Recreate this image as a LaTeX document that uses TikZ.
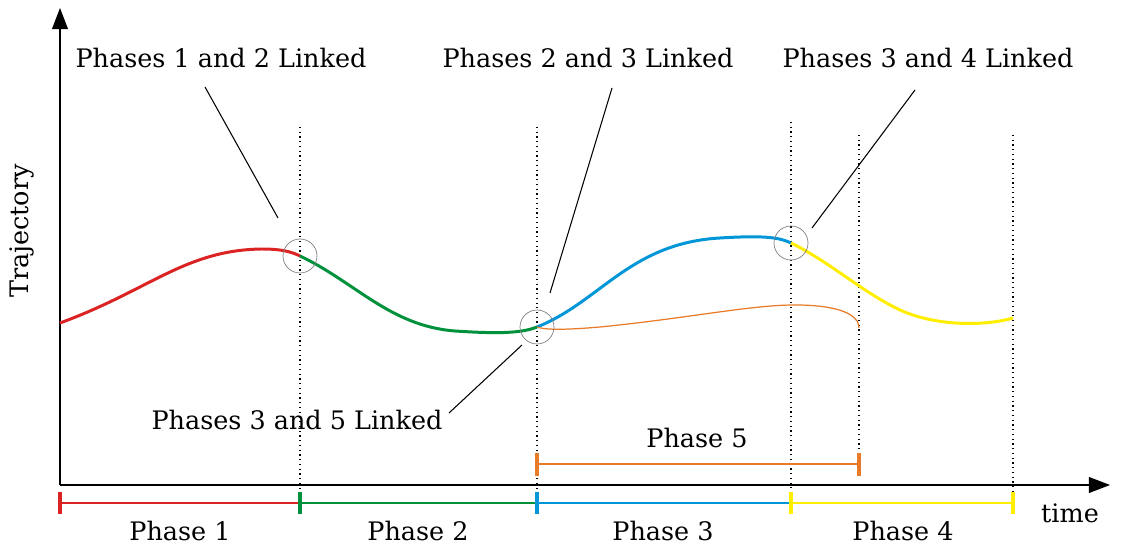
\documentclass[tikz,border=0pt]{standalone}
\usepackage{fontspec}
\setmainfont{DejaVu Serif}
\usetikzlibrary{arrows.meta}
\definecolor{cred}{RGB}{220,35,35}
\definecolor{cgreen}{RGB}{0,145,60}
\definecolor{cblue}{RGB}{0,150,215}
\definecolor{cyellow}{RGB}{255,238,0}
\definecolor{corange}{RGB}{232,122,40}
\tikzset{
  curve/.style={line width=1.7pt},
  axis/.style={line width=0.8pt,-{Triangle[length=12pt,width=9pt]}},
  guide/.style={dotted,line width=0.7pt},
  bar/.style={line width=0.8pt},
  tick/.style={line width=1.8pt},
  lbl/.style={font=\fontsize{14.5}{17}\selectfont,inner sep=0pt},
  lead/.style={line width=0.6pt},
  ring/.style={circle,draw=gray,line width=0.4pt,minimum size=0.68cm, inner sep=0pt},
}
\begin{document}
\begin{tikzpicture}[x=0.02cm,y=-0.02cm]
\useasboundingbox (0,0) rectangle (1135,546);
% axes
\coordinate (O) at (60,485);
\coordinate (Ytip) at (60,8);
\coordinate (Xtip) at (1110,485);
\draw[axis] (O) -- (Ytip);
\draw[axis] (O) -- (Xtip);
\node[lbl,rotate=90] (traj) at (22,231) {Trajectory};
\node[lbl] (time) at (1070,513) {time};
% guides
\coordinate (g1t) at (300,127); \coordinate (g1b) at (300,503);
\coordinate (g2t) at (537,127); \coordinate (g2b) at (537,503);
\coordinate (g3t) at (791,122); \coordinate (g3b) at (791,503);
\coordinate (g4t) at (859,135); \coordinate (g4b) at (859,470);
\coordinate (g5t) at (1013,135); \coordinate (g5b) at (1013,503);
\draw[guide] (g1t) -- (g1b);
\draw[guide] (g2t) -- (g2b);
\draw[guide] (g3t) -- (g3b);
\draw[guide] (g4t) -- (g4b);
\draw[guide] (g5t) -- (g5b);
% phase bars
\coordinate (p0) at (60,503); \coordinate (p1) at (300,503); \coordinate (p2) at (537,503);
\coordinate (p3) at (791,503); \coordinate (p4) at (1013,503);
\draw[bar,cred] (p0) -- (p1);
\draw[bar,cgreen] (p1) -- (p2);
\draw[bar,cblue] (p2) -- (p3);
\draw[bar,cyellow] (p3) -- (p4);
\draw[tick,cred] (60,492) -- (60,514);
\draw[tick,cgreen] (300,492) -- (300,514);
\draw[tick,cblue] (537,492) -- (537,514);
\draw[tick,cyellow] (791,492) -- (791,514);
\draw[tick,cyellow] (1013,492) -- (1013,514);
\node[lbl] (ph1) at (180,531) {Phase 1};
\node[lbl] (ph2) at (418,531) {Phase 2};
\node[lbl] (ph3) at (663,531) {Phase 3};
\node[lbl] (ph4) at (903,531) {Phase 4};
% phase 5 bar
\coordinate (q0) at (537,464); \coordinate (q1) at (859,464);
\draw[bar,corange,line width=1.2pt] (q0) -- (q1);
\draw[tick,corange] (537,453) -- (537,476);
\draw[tick,corange] (859,453) -- (859,476);
\node[lbl] (ph5) at (697,438) {Phase 5};
% curves
\coordinate (A) at (60,323);
\coordinate (B) at (300,256);
\coordinate (C) at (537,327);
\coordinate (D) at (791,243);
\coordinate (E) at (1013,318);
\coordinate (F) at (859,328);
\draw[curve,cred] (A) .. controls (150,290) and (185,250) .. (262,249) .. controls (282,249) and (292,252) .. (B);
\draw[curve,cgreen] (B) .. controls (355,282) and (390,326) .. (455,331) .. controls (500,334) and (522,333) .. (C);
\draw[curve,cblue] (C) .. controls (600,302) and (630,243) .. (720,238) .. controls (768,235) and (780,238) .. (D);
\draw[curve,cyellow] (D) .. controls (830,262) and (862,292) .. (900,310) .. controls (940,328) and (990,325) .. (E);
\draw[corange,line width=0.7pt] (C) .. controls (545,330) and (565,330) .. (600,327) .. controls (690,318) and (750,305) .. (795,305) .. controls (840,305) and (859,315) .. (F);
% rings
\node[ring] (r1) at (B) {};
\node[ring] (r2) at (C) {};
\node[ring] (r3) at (D) {};
% labels
\node[lbl] (L12) at (221,58) {Phases 1 and 2 Linked};
\node[lbl] (L23) at (588,58) {Phases 2 and 3 Linked};
\node[lbl] (L34) at (928,58) {Phases 3 and 4 Linked};
\node[lbl] (L35) at (297,420) {Phases 3 and 5 Linked};
\coordinate (a1) at (205,87); \coordinate (b1) at (278,218);
\coordinate (a2) at (612,88); \coordinate (b2) at (550,293);
\coordinate (a3) at (915,90); \coordinate (b3) at (812,228);
\coordinate (a4) at (449,413); \coordinate (b4) at (522,345);
\draw[lead] (a1) -- (b1);
\draw[lead] (a2) -- (b2);
\draw[lead] (a3) -- (b3);
\draw[lead] (a4) -- (b4);
\end{tikzpicture}
\end{document}
